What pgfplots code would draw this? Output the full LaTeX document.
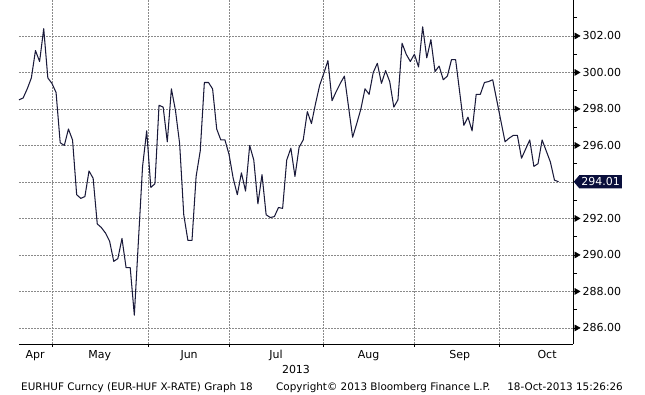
\documentclass[border=0pt]{standalone}
\usepackage{fontspec}
\setmainfont{DejaVu Sans}
\usepackage{pgfplots}
\usepackage{pgfplotstable}
\pgfplotsset{compat=1.18}
\usetikzlibrary{shapes.symbols}
\definecolor{linec}{HTML}{1A1A3A}
\definecolor{gridc}{HTML}{8A8A8A}
\definecolor{boxc}{HTML}{0A0F3C}
\pgfplotstableread{
d v
0 298.5
1 298.6
2 299.1
3 299.7
4 301.2
5 300.6
6 302.4
7 299.7
8 299.4
9 298.9
10 296.15
11 296.0
12 296.9
13 296.3
14 293.3
15 293.1
16 293.2
17 294.6
18 294.2
19 291.7
20 291.5
21 291.2
22 290.75
23 289.65
24 289.8
25 290.9
26 289.3
27 289.3
28 286.7
29 290.8
30 294.85
31 296.8
32 293.7
33 293.9
34 298.2
35 298.1
36 296.2
37 299.1
38 297.9
39 296.1
40 292.2
41 290.8
42 290.8
43 294.3
44 295.7
45 299.45
46 299.45
47 299.1
48 296.9
49 296.3
50 296.3
51 295.5
52 294.2
53 293.3
54 294.5
55 293.5
56 296.0
57 295.2
58 292.8
59 294.4
60 292.2
61 292.05
62 292.1
63 292.6
64 292.55
65 295.2
66 295.85
67 294.3
68 295.9
69 296.3
70 297.85
71 297.2
72 298.3
73 299.3
74 299.95
75 300.65
76 298.45
77 298.95
78 299.4
79 299.8
81 296.45
82 297.2
83 298.0
84 299.1
85 298.8
86 300.0
87 300.5
88 299.4
89 300.1
90 299.5
91 298.1
92 298.5
93 301.6
94 301.0
95 300.6
96 301.0
97 300.3
98 302.5
99 300.8
100 301.8
101 300.05
102 300.35
103 299.6
104 299.8
105 300.7
106 300.7
108 297.1
109 297.55
110 296.8
111 298.8
112 298.8
113 299.45
114 299.5
115 299.6
118 296.2
119 296.4
120 296.55
121 296.55
122 295.3
124 296.3
125 294.85
126 295.0
127 296.3
129 295.1
130 294.1
131 294.01
}\eurhuf
\begin{document}
\begin{tikzpicture}[x=1pt,y=1pt,font=\fontsize{11}{13}\selectfont]
\path[use as bounding box] (0,0) rectangle (645,395);
\begin{axis}[
  at={(19pt,51pt)}, anchor=south west, scale only axis,
  width=554pt, height=344pt,
  xmin=0, xmax=134.5, ymin=285.12, ymax=303.97,
  clip=false,
  axis x line*=bottom, axis y line*=right,
  axis line style={-, black, line width=0.9pt},
  tick align=outside,
  tick style={black, line width=0.8pt},
  xtick={8,31.3,51,73.8,95.9,116.7},
  xticklabels={},
  major tick length=3pt,
  extra x ticks={3.9,19.6,41.3,62.4,84.9,107.0,128.2},
  extra x tick labels={Apr,May,Jun,Jul,Aug,Sep,Oct},
  extra x tick style={major tick length=0pt, grid=none,
     tick label style={anchor=base, yshift=-15pt}},
  ytick={286,288,290,292,296,298,300,302},
  yticklabel style={xshift=3pt},
  extra y ticks={294},
  extra y tick labels={},
  extra y tick style={major tick length=0pt},
  minor ytick={287,289,...,303},
  minor tick length=4pt,
  grid=major,
  major grid style={gridc, dash pattern=on 1.5pt off 1.5pt, line width=0.7pt},
  /pgf/number format/.cd, fixed, fixed zerofill, precision=2, 1000 sep={},
  assume math mode=true,
]
\addplot[linec, line width=1.05pt, line join=round] table[x=d, y=v] {\eurhuf};
\addplot[only marks, mark=triangle*, mark size=3.5pt,
  mark options={xshift=3.6pt, rotate=-90, fill=black, draw=black}]
  coordinates {(134.5,286) (134.5,288) (134.5,290) (134.5,292) (134.5,296) (134.5,298) (134.5,300) (134.5,302)};
\node[signal, signal to=west, signal pointer angle=100, fill=boxc, text=white,
  inner xsep=2pt, inner ysep=2.5pt, anchor=west, xshift=0.5pt]
  at (axis cs:134.5,294.01) {294.01};
\end{axis}
\node[anchor=base] at (296,21) {2013};
\begin{scope}[font=\fontsize{10.4}{12}\selectfont]
\node[anchor=base west, inner sep=0pt] at (21,4) {EURHUF Curncy (EUR-HUF X-RATE) Graph 18};
\node[anchor=base west, inner sep=0pt] at (276,4) {Copyright\textcopyright{} 2013 Bloomberg Finance L.P.};
\node[anchor=base east, inner sep=0pt] at (623,4) {18-Oct-2013 15:26:26};
\end{scope}
\end{tikzpicture}
\end{document}
